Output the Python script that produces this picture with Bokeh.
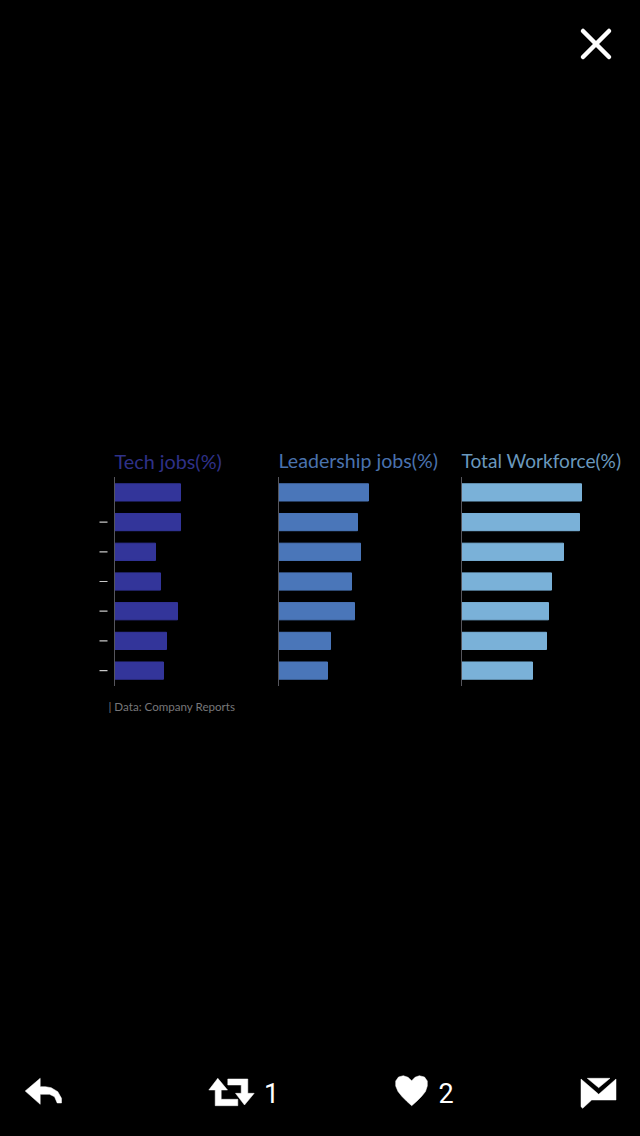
from bokeh.plotting import figure
from bokeh.models import Range1d
from bokeh.core.properties import value
from bokeh.embed import file_html
from bokeh.resources import INLINE

rows = [0, 1, 2, 3, 4, 5, 6]
tech_jobs = [33, 33, 20.5, 23, 31.5, 26, 24.5]
leadership_jobs = [45, 39.5, 41, 36.5, 38, 26, 24.5]
total_workforce = [60, 59, 51, 45, 43.5, 42.5, 35.5]
titles = ["Tech jobs(%)", "Leadership jobs(%)", "Total Workforce(%)"]
source_note = "| Data: Company Reports"
retweets = "1"
likes = "2"

FONT = value("Lato")
PAGE_L, PAGE_R, PAGE_T, PAGE_B = 1, 641, 0.5, 1136.5
ROW0, ROW_STEP = 492.4, 29.7
PX_PER_UNIT = 2

p = figure(width=640, height=1136, output_backend="svg", toolbar_location=None,
           x_axis_type=None, y_axis_type=None, min_border=0,
           x_range=Range1d(PAGE_L, PAGE_R), y_range=Range1d(PAGE_B, PAGE_T),
           background_fill_color="#000000", border_fill_color="#000000",
           outline_line_color=None)
p.grid.visible = False
p.extra_y_ranges["rows"] = Range1d((PAGE_B - ROW0) / ROW_STEP, (PAGE_T - ROW0) / ROW_STEP)

panels = [
    ("tech", tech_jobs, 115, "#33359a", "#2f3188", titles[0], "19.8px"),
    ("lead", leadership_jobs, 279, "#4a76b9", "#4a72ae", titles[1], "19.6px"),
    ("total", total_workforce, 462, "#7ab1d8", "#6a98bd", titles[2], "19.1px"),
]
for name, vals, left, color, tcolor, title, tsize in panels:
    p.extra_x_ranges[name] = Range1d((PAGE_L - left) / PX_PER_UNIT, (PAGE_R - left) / PX_PER_UNIT)
    p.hbar(y=rows, left=0, right=vals, height=0.58, color=color,
           x_range_name=name, y_range_name="rows")
    p.segment(x0=[left], x1=[left], y0=[477], y1=[686], line_color="#55555c", line_width=1)
    p.text(x=[left], y=[460.5], text=[title], text_color=tcolor, text_font=FONT,
           text_font_size=tsize, text_baseline="middle", text_align="left")

# dashes where the row labels would be
p.segment(x0=[100] * 6, x1=[108] * 6, y0=rows[1:], y1=rows[1:], line_color="#c8c8c8",
          line_width=1.2, y_range_name="rows")

p.text(x=[109], y=[706], text=[source_note], text_color="#77777a", text_font=FONT,
       text_font_size="11.6px", text_baseline="middle", text_align="left")

# close icon
p.segment(x0=[583.5, 583.5], y0=[31, 57], x1=[609.5, 609.5], y1=[57, 31], line_color="#ffffff",
          line_width=4.5, line_cap="round")

# footer icons
reply = ([25.7, 40.7, 40.7, 46, 51.7, 58.3, 62, 62, 57.7, 55, 50, 40.7, 40.7],
         [1091, 1078.3, 1086.7, 1086.7, 1087.7, 1091.7, 1098.3, 1103, 1103, 1096.7, 1094.3, 1094.3, 1104.3])
rt_left = ([218.3, 228, 221.7, 221.7, 238.3, 238.3, 215.7, 215.7, 209.3],
           [1078.3, 1090, 1090, 1099.3, 1099.3, 1105.7, 1105.7, 1090, 1090])
rt_right = ([245, 236, 241.7, 241.7, 228.3, 228.3, 248.3, 248.3, 254.7],
            [1105, 1093.3, 1093.3, 1085, 1085, 1079, 1079, 1093.3, 1093.3])
heart = ([412.2, 408.5, 403.8, 399, 396.2, 396.2, 398.5, 402.5, 407.5, 412.2, 417, 422, 426, 427.8, 427.8, 425, 419.8, 415.5],
         [1080.7, 1077.3, 1075.7, 1077, 1081, 1086, 1091.5, 1096.5, 1101.5, 1105.7, 1101.5, 1096.5, 1091.5, 1086, 1081, 1077, 1075.7, 1077.3])
mail_body = ([581.5, 581.5, 583.2, 592.2, 616.5, 616.5, 599.2],
             [1079, 1106.7, 1108.3, 1100, 1100, 1079, 1094.3])
mail_flap = ([587.8, 610.5, 599.2], [1078.3, 1078.3, 1087.7])
for xs, ys in (reply, rt_left, rt_right, heart, mail_body, mail_flap):
    p.patch(xs, ys, fill_color="#ffffff", line_color="#ffffff", line_width=0.5)

p.text(x=[272, 446.5], y=[1092.5, 1092.5], text=[retweets, likes], text_color="#ffffff",
       text_font=value("Roboto"), text_font_size="27px", text_baseline="middle", text_align="center")

html = file_html(p, INLINE)
html = html.replace("<head>", "<head><style>html,body{background:#000000;}</style>", 1)
open("out.html", "w").write(html)
